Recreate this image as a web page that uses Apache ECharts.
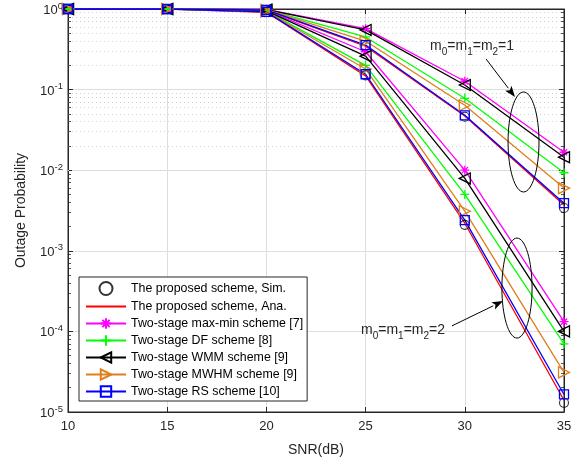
<!DOCTYPE html>
<html><head><meta charset="utf-8">
<script src="https://cdn.jsdelivr.net/npm/echarts@6/dist/echarts.min.js"></script>
<style>html,body{margin:0;padding:0;background:#fff}#c{width:584px;height:464px}</style>
</head><body><div id="c"></div>
<script>
// ---- data ----
const snr = [10, 15, 20, 25, 30, 35];
const yTicks = [1e-5, 1e-4, 1e-3, 1e-2, 1e-1, 1];

// m0=m1=m2=1
const simM1    = [1, 0.9995, 0.97, 0.345, 0.046, 0.0034];
const anaM1    = [1, 0.9995, 0.97, 0.345, 0.047, 0.0037];
const maxminM1 = [1, 0.9995, 0.99, 0.57, 0.127, 0.0167];
const dfM1     = [1, 0.9995, 0.985, 0.45, 0.078, 0.0093];
const wmmM1    = [1, 0.9995, 0.985, 0.55, 0.114, 0.0145];
const mwhmM1   = [1, 0.9995, 0.98, 0.40, 0.064, 0.0060];
const rsM1     = [1, 0.9995, 0.975, 0.357, 0.048, 0.0039];

// m0=m1=m2=2
const simM2    = [1, 0.999, 0.91, 0.15, 0.0021, 1.3e-5];
const anaM2    = [1, 0.999, 0.91, 0.148, 0.0022, 1.4e-5];
const maxminM2 = [1, 0.999, 0.96, 0.295, 0.0100, 1.32e-4];
const dfM2     = [1, 0.999, 0.94, 0.20, 0.0050, 7.0e-5];
const wmmM2    = [1, 0.999, 0.95, 0.26, 0.0079, 1.0e-4];
const mwhmM2   = [1, 0.999, 0.93, 0.18, 0.0031, 3.1e-5];
const rsM2     = [1, 0.999, 0.92, 0.155, 0.0024, 1.65e-5];

const names = [
  'The proposed scheme, Sim.',
  'The proposed scheme, Ana.',
  'Two-stage max-min scheme [7]',
  'Two-stage DF scheme [8]',
  'Two-stage WMM scheme [9]',
  'Two-stage MWHM scheme [9]',
  'Two-stage RS scheme [10]'
];

// ---- styling ----
const FONT = '"Liberation Sans", Arial, sans-serif';
const AX = '#262626';
const C = { red:'#ff0000', mag:'#ff00ff', grn:'#00ff00', blk:'#000000', org:'#dd7f1c', blu:'#0000ff' };
const STAR = 'path://M5,0L5,10M0,5L10,5M1.5,1.5L8.5,8.5M1.5,8.5L8.5,1.5';
const PLUS = 'path://M5,0L5,10M0,5L10,5';

function pairs(vals){ return snr.map((x,i)=>[x, vals[i]]); }

function lineS(name, vals, color, symbol, size, rot){
  return {
    name, type:'line', data: pairs(vals), xAxisIndex:0, yAxisIndex:0,
    symbol: symbol || 'none', symbolSize: size || 0, symbolRotate: rot || 0,
    showSymbol: !!symbol, z: 3,
    lineStyle: { color, width: 1.3 },
    itemStyle: symbol
      ? { color: 'rgba(255,255,255,0)', borderColor: color, borderWidth: 1.3 }
      : { color: 'rgba(255,255,255,0)', borderColor: 'rgba(255,255,255,0)', borderWidth: 0 },
    emphasis: { disabled: true }, animation: false
  };
}
function simS(vals){
  return {
    name: names[0], type:'scatter', data: pairs(vals), symbol:'circle', symbolSize: 9, z: 3,
    itemStyle: { color:'rgba(255,255,255,0)', borderColor:'#000', borderWidth:1.1 },
    emphasis: { disabled: true }, animation:false
  };
}

// minor grid + minor ticks
const minorVals = [];
for (let d = -5; d < 0; d++) for (let k = 2; k <= 9; k++) minorVals.push(k * Math.pow(10, d));
const minorGrid = minorVals.map(v => ({ yAxis: v }));
const minorTicks = [];
minorVals.forEach(v => {
  minorTicks.push([{ coord:[10, v] }, { coord:[10.15, v] }]);
  minorTicks.push([{ coord:[34.85, v] }, { coord:[35, v] }]);
});

const series = [
  { name:'_grid', type:'line', data: [], z: 1, silent:true,
    markLine: { silent:true, symbol:['none','none'], animation:false, z:1,
      label:{show:false}, lineStyle:{ color:'#d2d2d2', type:[1,3], width:1 },
      data: minorGrid } },
  { name:'_ticks', type:'line', data: [], z: 2, silent:true,
    markLine: { silent:true, symbol:['none','none'], animation:false, z:2,
      label:{show:false}, lineStyle:{ color:AX, type:'solid', width:0.8 },
      data: minorTicks } },
  simS(simM1), simS(simM2),
  lineS(names[1], anaM1, C.red), lineS(names[1], anaM2, C.red),
  lineS(names[2], maxminM1, C.mag, STAR, 9), lineS(names[2], maxminM2, C.mag, STAR, 9),
  lineS(names[3], dfM1, C.grn, PLUS, 9), lineS(names[3], dfM2, C.grn, PLUS, 9),
  lineS(names[4], wmmM1, C.blk, 'triangle', 11, 90), lineS(names[4], wmmM2, C.blk, 'triangle', 11, 90),
  lineS(names[5], mwhmM1, C.org, 'triangle', 11, -90), lineS(names[5], mwhmM2, C.org, 'triangle', 11, -90),
  lineS(names[6], rsM1, C.blu, 'rect', 9), lineS(names[6], rsM2, C.blu, 'rect', 9)
];

const option = {
  animation: false,
  backgroundColor: '#fff',
  textStyle: { fontFamily: FONT },
  grid: { left: 68, right: 20, top: 9, bottom: 52, show: true, borderColor: AX, borderWidth: 1, backgroundColor:'#fff' },
  legend: {
    data: names, orient: 'vertical', left: 79, top: 277,
    itemWidth: 40, itemHeight: 13, itemGap: 4,
    padding: [4, 4, 3, 6],
    backgroundColor: '#fff', borderColor: AX, borderWidth: 1, borderRadius: 0,
    textStyle: { fontFamily: FONT, fontSize: 12.4, color: '#000', lineHeight: 13 },
    selectedMode: false
  },
  xAxis: [{
    type: 'value', min: 10, max: 35, interval: 5, position: 'bottom',
    name: 'SNR(dB)', nameLocation: 'middle', nameGap: 31,
    nameTextStyle: { fontFamily: FONT, fontSize: 14, color: AX },
    axisLine: { show: true, lineStyle: { color: AX, width: 1 } },
    axisTick: { show: true, inside: true, length: 5, lineStyle: { color: AX } },
    axisLabel: { fontFamily: FONT, fontSize: 13, color: AX, margin: 8 },
    splitLine: { show: true, lineStyle: { color: '#dedede', width: 1 } }
  }, {
    type: 'value', min: 10, max: 35, interval: 5, position: 'top',
    axisLine: { show: true, lineStyle: { color: AX, width: 1 } },
    axisTick: { show: true, inside: true, length: 5, lineStyle: { color: AX } },
    axisLabel: { show: false }, splitLine: { show: false }
  }],
  yAxis: [{
    type: 'log', logBase: 10, min: 1e-5, max: 1, splitNumber: 5,
    name: 'Outage Probability', nameLocation: 'middle', nameGap: 40,
    nameTextStyle: { fontFamily: FONT, fontSize: 14, color: AX },
    axisLine: { show: true, lineStyle: { color: AX, width: 1 } },
    axisTick: { show: true, inside: true, length: 5, lineStyle: { color: AX } },
    axisLabel: {
      margin: 5,
      formatter: v => '{b|10}{s|' + Math.round(Math.log10(v)) + '}',
      rich: {
        b: { fontFamily: FONT, fontSize: 13, color: AX, lineHeight: 16, verticalAlign: 'bottom' },
        s: { fontFamily: FONT, fontSize: 9.5, color: AX, lineHeight: 16, verticalAlign: 'top' }
      }
    },
    splitLine: { show: true, lineStyle: { color: '#dedede', width: 1 } }
  }, {
    type: 'log', logBase: 10, min: 1e-5, max: 1, splitNumber: 5, position: 'right',
    axisLine: { show: true, lineStyle: { color: AX, width: 1 } },
    axisTick: { show: true, inside: true, length: 5, lineStyle: { color: AX } },
    axisLabel: { show: false }, splitLine: { show: false }
  }],
  series
};

const chart = echarts.init(document.getElementById('c'), null, { renderer: 'canvas' });
chart.setOption(option);

// ---- annotations (placed in data coordinates) ----
function P(x, y){ return chart.convertToPixel({ xAxisIndex: 0, yAxisIndex: 0 }, [x, y]); }
function arrow(from, to){
  const a = P(from[0], from[1]), b = P(to[0], to[1]);
  const dx = b[0]-a[0], dy = b[1]-a[1], L = Math.hypot(dx, dy), ux = dx/L, uy = dy/L;
  const hl = 11, hw = 4;
  const base = [b[0]-ux*hl, b[1]-uy*hl];
  return [
    { type:'line', shape:{ x1:a[0], y1:a[1], x2:base[0], y2:base[1] }, style:{ stroke:'#000', lineWidth:1 }, z:10 },
    { type:'polygon', shape:{ points:[ b, [base[0]-uy*hw, base[1]+ux*hw], [base[0]+ux*2.5, base[1]+uy*2.5], [base[0]+uy*hw, base[1]-ux*hw] ] },
      style:{ fill:'#000' }, z:10 }
  ];
}
function ellipse(cx, cy, rxd, ryPx){
  const c = P(cx, cy), e = P(cx + rxd, cy);
  return { type:'ellipse', shape:{ cx:c[0], cy:c[1], rx:Math.abs(e[0]-c[0]), ry:ryPx }, style:{ fill:'none', stroke:'#000', lineWidth:1 }, z:10 };
}
function label(x, y, n){
  const p = P(x, y);
  return { type:'text', x:p[0], y:p[1], z:11,
    style:{ text:'{m|m}{u|0}{m|=m}{u|1}{m|=m}{u|2}{m|=' + n + '}',
      verticalAlign:'middle', align:'left',
      rich:{ m:{ fontFamily:FONT, fontSize:14, fill:AX, lineHeight:18, verticalAlign:'top' },
             u:{ fontFamily:FONT, fontSize:10, fill:AX, lineHeight:18, verticalAlign:'bottom' } } } };
}
const g = [].concat(
  ellipse(32.96, 0.0224, 0.78, 50),
  ellipse(32.63, 3.45e-4, 0.76, 50),
  arrow([31.07, 0.240], [32.53, 0.081]),
  arrow([29.35, 1.17e-4], [31.93, 2.38e-4]),
  label(28.25, 0.33, 1),
  label(24.77, 0.97e-4, 2)
);
chart.setOption({ graphic: { elements: g } });
</script>
</body></html>
